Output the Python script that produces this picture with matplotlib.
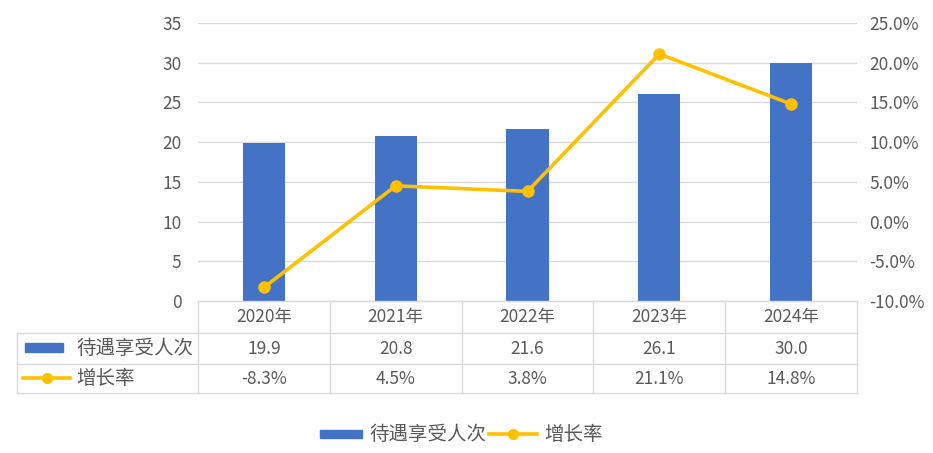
import matplotlib
matplotlib.use("Agg")
import matplotlib.pyplot as plt
from matplotlib.lines import Line2D
from matplotlib.patches import Rectangle

plt.rcParams['font.family'] = ['Noto Sans CJK SC', 'DejaVu Sans']

years = ['2020年', '2021年', '2022年', '2023年', '2024年']
counts = [19.9, 20.8, 21.6, 26.1, 30.0]
growth = [-8.3, 4.5, 3.8, 21.1, 14.8]
count_labels = ['19.9', '20.8', '21.6', '26.1', '30.0']
growth_labels = ['-8.3%', '4.5%', '3.8%', '21.1%', '14.8%']
series_names = ['待遇享受人次', '增长率']

BAR = '#4472C4'
LINE = '#FFC000'
GRID = '#D9D9D9'
TXT = '#595959'
FS = 12.5
FS_CJK = 14

W, H = 933, 453
fig = plt.figure(figsize=(W / 100, H / 100), dpi=100)
x0, x1, y0, y1 = 198, 857, 301, 23
ax = fig.add_axes([x0 / W, 1 - y0 / H, (x1 - x0) / W, (y0 - y1) / H])
ax2 = ax.twinx()

xs = list(range(len(years)))
ax.bar(xs, counts, width=0.32, color=BAR, zorder=2)
ax.set_xlim(-0.5, len(years) - 0.5)
ax.set_ylim(0, 35)
ax.set_yticks(range(0, 36, 5))
ax.grid(axis='y', color=GRID, lw=1, zorder=0)
ax.set_axisbelow(True)
ax.tick_params(axis='y', length=0, labelsize=FS, labelcolor=TXT, pad=12)
ax.set_xticks([])
for s in ax.spines.values():
    s.set_visible(False)

ax2.plot(xs, growth, color=LINE, lw=2.6, marker='o', ms=8, zorder=3)
ax2.set_ylim(-10, 25)
ax2.set_yticks(range(-10, 26, 5))
ax2.set_yticklabels([f'{v:.1f}%' for v in range(-10, 26, 5)])
ax2.tick_params(axis='y', length=0, labelsize=FS, labelcolor=TXT, pad=9)
for s in ax2.spines.values():
    s.set_visible(False)
ax.set_zorder(ax2.get_zorder() - 1)
ax.patch.set_visible(False)

def fx(px):
    return px / W

def fy(py):
    return 1 - py / H

col_w = (x1 - x0) / len(years)
rows = [301, 333, 364, 393]
left = 17
kw = dict(color=GRID, lw=1, transform=fig.transFigure)
fig.add_artist(Line2D([fx(x0), fx(x1)], [fy(rows[0]), fy(rows[0])], **kw))
for r in rows[1:]:
    fig.add_artist(Line2D([fx(left), fx(x1)], [fy(r), fy(r)], **kw))
for i in range(len(years) + 1):
    xp = x0 + i * col_w
    fig.add_artist(Line2D([fx(xp), fx(xp)], [fy(rows[0]), fy(rows[3])], **kw))
fig.add_artist(Line2D([fx(left), fx(left)], [fy(rows[1]), fy(rows[3])], **kw))

for i, (yr, c, g) in enumerate(zip(years, count_labels, growth_labels)):
    cx = x0 + (i + 0.5) * col_w
    for text, (ra, rb) in ((yr, (rows[0], rows[1])), (c, (rows[1], rows[2])), (g, (rows[2], rows[3]))):
        fig.text(fx(cx), fy((ra + rb) / 2), text, ha='center', va='center',
                 fontsize=FS, color=TXT)

# row headers with legend keys
fig.add_artist(Rectangle((fx(25), fy(352)), fx(63) - fx(25), fy(343) - fy(352),
                         color=BAR, transform=fig.transFigure))
fig.text(fx(76), fy(348), series_names[0], ha='left', va='center', fontsize=FS_CJK, color=TXT)
fig.add_artist(Line2D([fx(23), fx(70)], [fy(378), fy(378)], color=LINE, lw=2.6,
                      transform=fig.transFigure))
fig.add_artist(Line2D([fx(46.5)], [fy(378)], color=LINE, marker='o', ms=7,
                      transform=fig.transFigure))
fig.text(fx(76), fy(378), series_names[1], ha='left', va='center', fontsize=FS_CJK, color=TXT)

# bottom legend
ly = 434
fig.add_artist(Rectangle((fx(320), fy(438)), fx(362) - fx(320), fy(430) - fy(438),
                         color=BAR, transform=fig.transFigure))
fig.text(fx(369), fy(ly), series_names[0], ha='left', va='center', fontsize=FS_CJK, color=TXT)
fig.add_artist(Line2D([fx(489), fx(537)], [fy(ly), fy(ly)], color=LINE, lw=2.6,
                      transform=fig.transFigure))
fig.add_artist(Line2D([fx(513)], [fy(ly)], color=LINE, marker='o', ms=7,
                      transform=fig.transFigure))
fig.text(fx(544), fy(ly), series_names[1], ha='left', va='center', fontsize=FS_CJK, color=TXT)

fig.savefig('out.png', dpi=100)
